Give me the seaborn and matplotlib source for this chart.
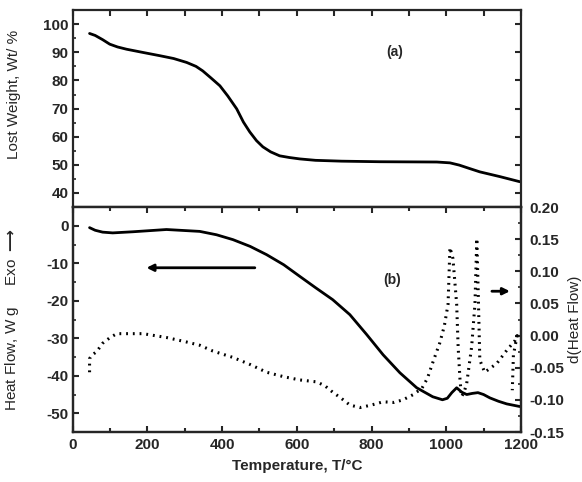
import matplotlib
matplotlib.use("Agg")
import matplotlib.pyplot as plt
import seaborn as sns
from matplotlib.ticker import MultipleLocator, FormatStrFormatter

# ---- data ----
# (a) TGA curve
tga_temp = [45, 60, 80, 99, 120, 144, 190, 233, 270, 305,
            330, 348, 370, 394, 415, 439, 457, 474, 492, 509,
            530, 554, 580, 608, 650, 720, 822, 975, 1010, 1035,
            1060, 1090, 1144, 1197]
tga_wt = [96.7, 96.0, 94.5, 92.9, 91.9, 91.1, 89.9, 88.8, 87.8, 86.4,
          85.0, 83.4, 80.9, 78.1, 74.5, 69.9, 65.2, 61.7, 58.6, 56.4,
          54.6, 53.2, 52.6, 52.1, 51.6, 51.3, 51.1, 51.0, 50.7, 49.9,
          48.8, 47.5, 45.8, 44.0]

# (b) heat flow (left axis)
hf_temp = [45, 60, 80, 107, 161, 251, 340, 385, 429, 475,
           519, 565, 608, 650, 696, 742, 787, 831, 876, 921,
           964, 990, 1003, 1015, 1028, 1042, 1055, 1070, 1085, 1100,
           1117, 1140, 1162, 1197]
hf = [-0.5, -1.2, -1.7, -1.9, -1.6, -1.0, -1.5, -2.4, -3.7, -5.5,
      -7.7, -10.4, -13.5, -16.5, -19.7, -23.7, -29.0, -34.4, -39.2, -43.2,
      -45.6, -46.4, -46.0, -44.5, -43.2, -44.4, -45.0, -44.7, -44.5, -45.0,
      -45.9, -46.8, -47.5, -48.2]

# (b) derivative of heat flow (right axis)
dhf_temp = [45, 45, 50, 64, 80, 100, 118, 161, 188, 251,
            305, 340, 375, 429, 475, 519, 565, 608, 653, 675,
            696, 720, 742, 769, 800, 831, 860, 884, 911, 935,
            950, 964, 983, 995, 1005, 1010, 1018, 1028, 1032, 1037,
            1041, 1048, 1055, 1068, 1077, 1082, 1086, 1090, 1103, 1120,
            1136, 1162, 1184, 1190, 1180, 1177]
dhf = [-0.057, -0.036, -0.031, -0.025, -0.012, -0.003, 0.003, 0.003, 0.003, -0.003,
       -0.010, -0.015, -0.024, -0.034, -0.045, -0.057, -0.064, -0.069, -0.072, -0.078,
       -0.088, -0.098, -0.108, -0.112, -0.108, -0.103, -0.104, -0.100, -0.092, -0.082,
       -0.066, -0.042, -0.011, 0.015, 0.049, 0.137, 0.120, 0.049, -0.018, -0.069,
       -0.095, -0.088, -0.074, -0.018, 0.049, 0.151, 0.060, -0.038, -0.057, -0.050,
       -0.043, -0.023, -0.008, 0.000, -0.030, -0.085]

sns.set_style("ticks")
plt.rcParams['font.family'] = ['Liberation Sans', 'DejaVu Sans']
plt.rcParams['font.weight'] = 'bold'
plt.rcParams['axes.unicode_minus'] = False
plt.rcParams['xtick.direction'] = 'in'
plt.rcParams['ytick.direction'] = 'in'

fig = plt.figure(figsize=(5.82, 4.82), dpi=100)
ax1 = fig.add_axes([0.125, 0.5705, 0.77, 0.4085])
ax2 = fig.add_axes([0.125, 0.1037, 0.77, 0.4668])
ax3 = ax2.twinx()

# ---------------- (a) ----------------
sns.lineplot(x=tga_temp, y=tga_wt, ax=ax1, color='black', lw=2, sort=False, estimator=None)
ax1.set_xlim(0, 1200)
ax1.set_ylim(35, 105)
ax1.yaxis.set_major_locator(MultipleLocator(10))
ax1.yaxis.set_minor_locator(MultipleLocator(5))
ax1.xaxis.set_major_locator(MultipleLocator(100))
ax1.tick_params(axis='x', bottom=False, top=True, labelbottom=False, length=4, width=1.5)
ax1.tick_params(axis='y', left=True, right=True, labelsize=11, length=4, width=1.5, pad=3)
ax1.tick_params(axis='y', which='minor', left=True, right=False, length=2.5, width=1.2)
ax1.set_ylabel('Lost Weight, Wt/ %', fontsize=11, fontweight='normal')
ax1.yaxis.set_label_coords(-0.115, 0.57)
ax1.text(862, 90, '(a)', fontsize=10, fontweight='bold', ha='center', va='center')

# ---------------- (b) ----------------
sns.lineplot(x=hf_temp, y=hf, ax=ax2, color='black', lw=2, sort=False, estimator=None)
sns.lineplot(x=dhf_temp, y=dhf, ax=ax3, color='black', lw=2.2, sort=False, estimator=None,
             linestyle=(0, (0.6, 1.6)))
ax2.set_xlim(0, 1200)
ax2.set_ylim(-55, 5)
ax3.set_ylim(-0.15, 0.20)
ax2.xaxis.set_major_locator(MultipleLocator(200))
ax2.xaxis.set_minor_locator(MultipleLocator(100))
ax2.yaxis.set_major_locator(MultipleLocator(10))
ax2.yaxis.set_minor_locator(MultipleLocator(5))
ax3.yaxis.set_major_locator(MultipleLocator(0.05))
ax3.yaxis.set_minor_locator(MultipleLocator(0.025))
ax3.yaxis.set_major_formatter(FormatStrFormatter('%.2f'))
ax2.tick_params(axis='x', which='both', bottom=True, top=True, labelsize=11, width=1.5)
ax2.tick_params(axis='x', which='major', length=4, pad=4)
ax2.tick_params(axis='x', which='minor', length=3)
ax2.tick_params(axis='y', which='major', labelsize=11, length=4, width=1.5, pad=3)
ax2.tick_params(axis='y', which='minor', length=2.5, width=1.2)
ax3.tick_params(axis='y', which='major', labelsize=11, length=4, width=1.5, pad=6)
ax3.tick_params(axis='y', which='minor', length=2.5, width=1.2)

ax2.set_xlabel('Temperature, T/\u00b0C', fontsize=11, fontweight='bold', labelpad=5)
ax2.set_ylabel('Heat Flow, W g     Exo $\\longrightarrow$', fontsize=11, fontweight='normal')
ax2.yaxis.set_label_coords(-0.115, 0.5)
ax3.set_ylabel('d(Heat Flow)', fontsize=11, fontweight='normal', rotation=90, labelpad=3)

ax2.text(854, -14.4, '(b)', fontsize=10, fontweight='bold', ha='center', va='center')
ax2.annotate('', xy=(190, -11.2), xytext=(495, -11.2),
             arrowprops=dict(arrowstyle='-|>', color='black', lw=2, mutation_scale=10))
ax3.annotate('', xy=(1178, 0.069), xytext=(1115, 0.069),
             arrowprops=dict(arrowstyle='-|>', color='black', lw=2, mutation_scale=10))

for ax in (ax1, ax2, ax3):
    for s in ax.spines.values():
        s.set_visible(True)
        s.set_linewidth(1.6)

fig.savefig('out.png', dpi=100)
